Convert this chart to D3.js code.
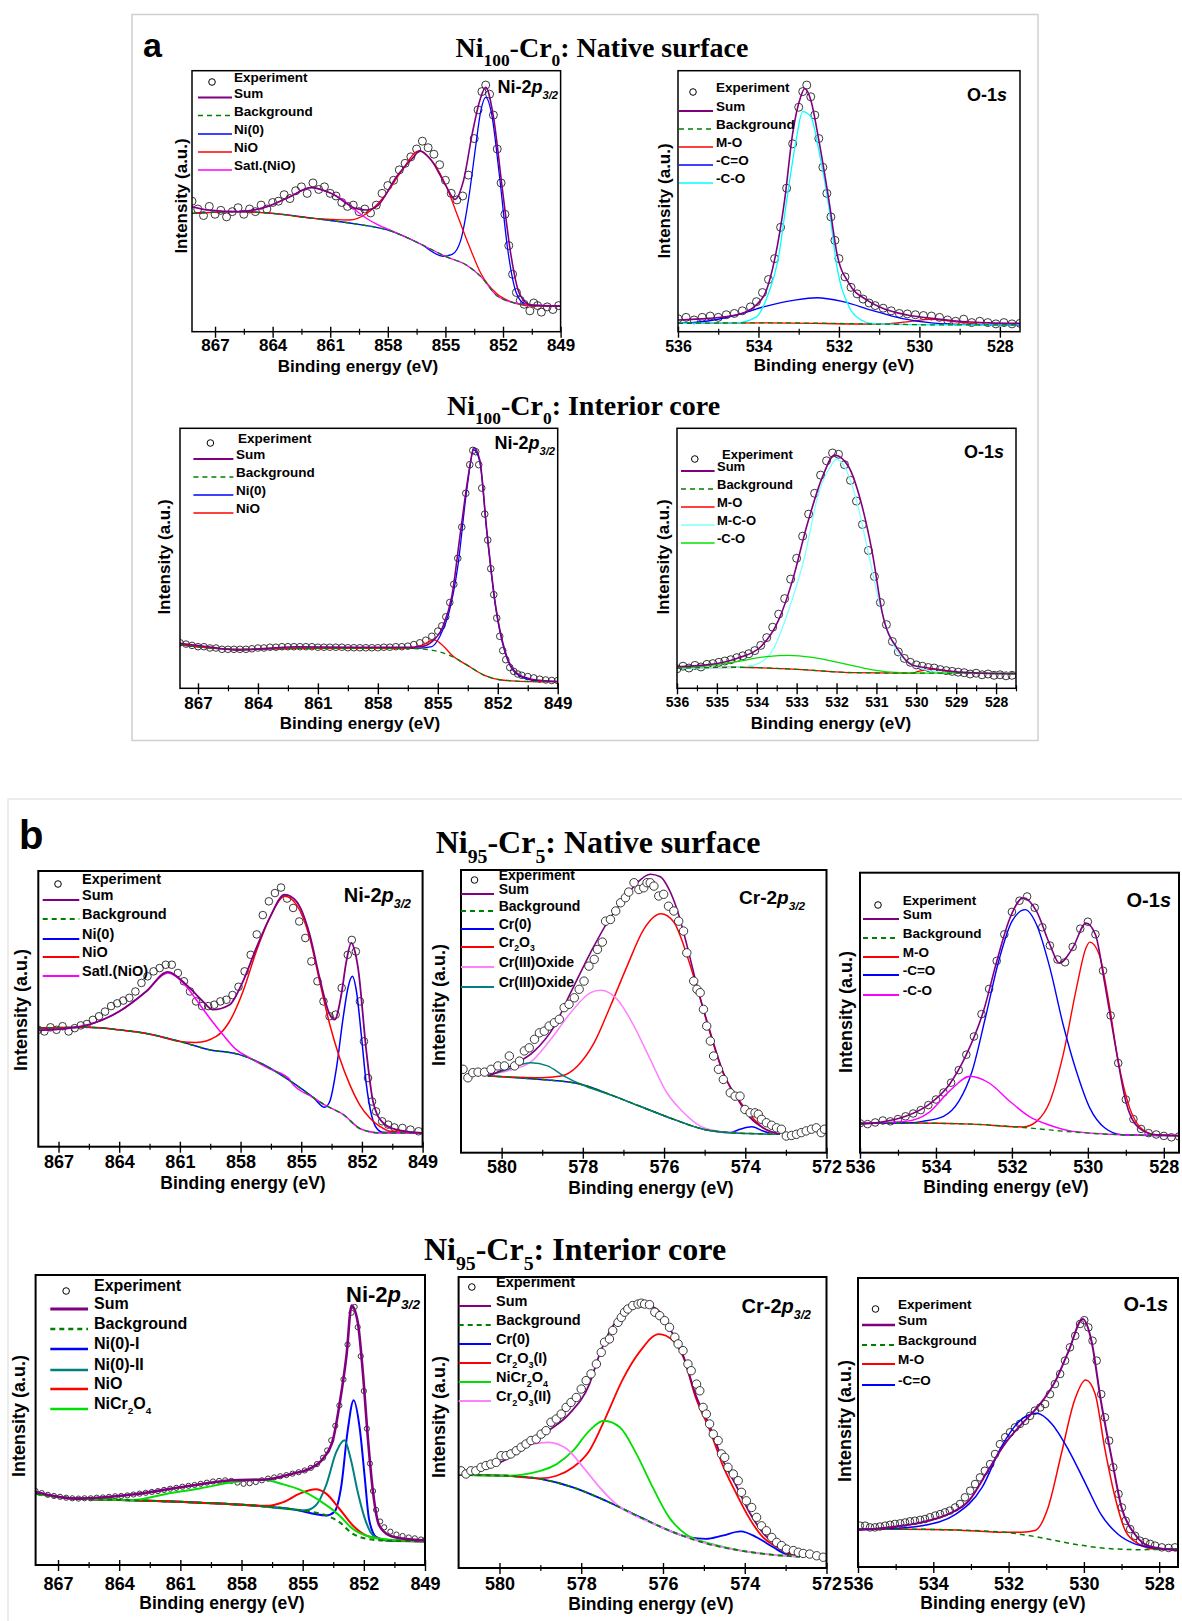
<!DOCTYPE html>
<html>
<head>
<meta charset="utf-8">
<script src="https://cdn.jsdelivr.net/npm/d3@7"></script>
<style>
  body { margin: 0; background: #fff; }
</style>
</head>
<body>
<svg id="fig" width="1182" height="1621"></svg>
<script>
// ---------- data (x = binding energy eV, y = intensity, 0..100 of the panel height) ----------

// a: Ni100-Cr0 native surface, Ni-2p3/2
var a1Exp = [[868.2,50],[867.9,47],[867.6,44.5],[867.3,48],[867.0,45],[866.7,46.5],[866.4,44],[866.1,46],[865.8,47.5],[865.5,45],[865.2,47],[864.9,46],[864.6,48.5],[864.3,47],[864.0,49.5],[863.7,50],[863.4,52.5],[863.1,51],[862.8,54],[862.5,55.5],[862.2,53],[861.9,57],[861.6,54.5],[861.3,55.5],[861.0,53],[860.7,52],[860.4,49.5],[860.1,48],[859.8,48.5],[859.5,46],[859.2,47],[858.9,45.5],[858.6,48.5],[858.3,53],[858.0,56],[857.7,58],[857.4,62],[857.1,64.5],[856.8,67],[856.5,70],[856.2,73],[855.9,70.5],[855.6,68],[855.3,64],[855.0,58],[854.7,53],[854.4,50.5],[854.1,52],[853.8,60],[853.5,74],[853.3,85],[853.1,92],[852.9,94.5],[852.7,91],[852.5,83],[852.3,70],[852.1,57],[851.9,45],[851.7,33],[851.5,22],[851.3,15],[851.1,12],[850.9,10.5],[850.6,8],[850.4,11],[850.2,10],[850.0,7.5],[849.7,9.5],[849.4,8.5],[849.1,10]];
var a1Bg = [[868.2,45.3],[865.8,46.0],[864.0,45.3],[861.85,43.4],[859.7,41.3],[857.9,38.7],[856.35,33.8],[854.95,28.7],[853.9,25.5],[853.15,21.1],[852.35,14.0],[851.6,11.4],[850.55,10.2],[849.0,9.8]];
var a1Sum = [[868.2,47.9],[867.35,46.6],[865.8,46.0],[864.3,47.9],[863.1,51.7],[862.0,55.2],[860.95,53.0],[859.7,47.3],[859.1,46.6],[858.5,48.5],[857.55,59.4],[856.65,67.0],[856.35,69.3],[855.75,65.8],[854.95,55.6],[854.5,50.7],[854.05,58.1],[853.6,76.0],[853.2,88.8],[852.9,93.6],[852.5,82.4],[852.05,55.6],[851.6,30.0],[851.15,14.7],[850.55,10.2],[849.0,9.8]];
var a1Ni0 = [[855.1,28.9],[854.65,29.6],[854.2,35.1],[853.75,53.0],[853.45,69.6],[853.15,84.9],[852.9,89.8],[852.6,83.7],[852.2,60.7],[851.75,31.3],[851.3,14.7],[850.85,10.6],[849.9,9.9]];
var a1NiO = [[860.95,43.0],[860.0,42.8],[859.1,45.3],[858.2,51.7],[857.25,61.9],[856.5,69.0],[856.35,69.3],[855.6,64.5],[854.95,55.6],[854.35,44.1],[853.75,32.6],[853.15,22.3],[852.35,14.7],[851.6,11.5],[850.55,9.9],[849.0,9.8]];
var a1Sat = [[868.2,47.9],[867.35,46.6],[865.8,46.0],[864.3,47.9],[863.1,51.7],[862.0,55.2],[860.95,53.0],[860.3,50.4],[859.7,46.6],[859.1,43.4],[858.5,40.9],[857.9,39.0]];
var a1Labels = ["Experiment", "Sum", "Background", "Ni(0)", "NiO", "Satl.(NiO)"];

// a: Ni100-Cr0 native surface, O-1s
var a2Exp = [[536.0,5.0],[535.8,5.5],[535.6,4.5],[535.4,5.5],[535.2,6.0],[535.0,5.5],[534.8,6.5],[534.6,7.0],[534.4,8.0],[534.2,9.5],[534.05,11.5],[533.9,15.0],[533.75,20.0],[533.6,28.0],[533.45,40.0],[533.3,55.0],[533.15,72.0],[533.0,86.0],[532.9,92.0],[532.8,94.5],[532.7,90.0],[532.6,83.0],[532.5,74.0],[532.4,63.0],[532.3,53.0],[532.2,44.0],[532.1,35.0],[532.0,28.0],[531.85,21.0],[531.7,17.0],[531.55,14.5],[531.4,12.5],[531.25,11.0],[531.1,10.0],[530.9,9.0],[530.7,8.0],[530.5,7.0],[530.3,6.8],[530.1,6.5],[529.9,6.2],[529.7,6.0],[529.5,5.5],[529.3,4.5],[529.1,4.0],[528.9,4.8],[528.7,3.5],[528.5,4.0],[528.3,3.5],[528.1,3.0],[527.9,3.5],[527.7,3.0],[527.5,3.2]];
var a2Bg = [[536.0,3.2],[533.8,3.4],[530.9,2.9],[529.4,2.6],[527.5,2.6]];
var a2Sum = [[536.0,4.5],[535.25,5.1],[534.55,6.4],[534.1,9.6],[533.8,16.0],[533.6,27.5],[533.35,50.4],[533.15,76.0],[532.95,90.0],[532.85,93.2],[532.7,88.8],[532.5,73.4],[532.25,50.4],[532.05,30.0],[531.75,18.5],[531.3,12.1],[530.9,8.9],[530.3,6.4],[529.7,5.1],[529.15,4.2],[528.25,3.4],[527.5,3.2]];
var a2MO = [[530.3,3.8],[529.7,4.7],[529.1,3.8],[528.55,2.9]];
var a2CdO = [[535.3,4.0],[534.55,6.4],[533.8,9.8],[533.1,12.1],[532.55,13.0],[531.9,11.5],[531.2,8.3],[530.45,5.1],[529.7,3.4],[528.7,2.7]];
var a2CO = [[534.55,3.4],[534.05,5.7],[533.75,14.7],[533.52,27.0],[533.3,50.0],[533.08,72.0],[532.9,84.3],[532.7,82.4],[532.5,69.6],[532.25,47.9],[532.05,24.9],[531.75,9.6],[531.45,4.5],[531.2,3.2]];
var a2Labels = ["Experiment", "Sum", "Background", "M-O", "-C=O", "-C-O"];

// a: Ni100-Cr0 interior core, Ni-2p3/2
var a3Exp = [[867.9,17.5],[867.6,17.0],[867.3,16.5],[867.0,16.0],[866.7,16.0],[866.4,15.5],[866.1,15.5],[865.8,15.0],[865.5,15.0],[865.2,15.0],[864.9,15.0],[864.6,15.0],[864.3,15.2],[864.0,15.5],[863.7,15.5],[863.4,15.8],[863.1,15.8],[862.8,16.0],[862.5,16.0],[862.2,16.0],[861.9,16.0],[861.6,16.0],[861.3,16.0],[861.0,15.8],[860.7,15.8],[860.4,15.8],[860.1,15.8],[859.8,15.8],[859.5,15.6],[859.2,15.6],[858.9,15.6],[858.6,15.6],[858.3,15.6],[858.0,15.6],[857.7,15.8],[857.4,15.8],[857.1,16.0],[856.8,16.0],[856.5,16.2],[856.2,16.8],[855.9,17.5],[855.6,18.5],[855.3,20.0],[855.0,22.0],[854.8,24.0],[854.6,27.5],[854.4,33.0],[854.2,40.0],[854.0,50.0],[853.8,62.0],[853.6,75.0],[853.4,86.0],[853.25,91.5],[853.1,91.0],[852.95,86.0],[852.8,77.0],[852.65,67.0],[852.5,57.0],[852.35,46.0],[852.2,36.0],[852.05,27.0],[851.9,20.0],[851.75,14.5],[851.6,11.0],[851.4,8.0],[851.2,6.5],[851.0,5.5],[850.8,5.0],[850.5,4.5],[850.2,4.0],[849.9,3.5],[849.6,3.2],[849.3,3.0],[849.0,3.0]];
var a3Bg = [[867.9,16.7],[865.05,15.0],[862.1,15.4],[856.8,15.4],[855.6,15.0],[854.45,12.8],[853.55,9.0],[852.7,5.1],[851.8,3.2],[850.3,2.6],[849.0,2.6]];
var a3Sum = [[867.9,17.3],[866.5,16.0],[865.05,14.7],[862.1,16.0],[859.15,15.8],[856.8,15.8],[855.9,16.0],[855.3,17.9],[854.75,23.7],[854.3,35.3],[853.85,60.9],[853.4,85.3],[853.2,92.6],[852.9,87.8],[852.55,60.9],[852.1,31.4],[851.65,14.7],[851.05,5.8],[850.3,3.5],[849.0,2.6]];
var a3Ni0 = [[856.05,15.4],[855.3,16.0],[854.9,19.9],[854.45,28.8],[854.0,46.8],[853.55,76.3],[853.2,91.7],[852.9,87.2],[852.55,60.3],[852.1,30.8],[851.65,14.1],[851.05,5.5],[850.3,3.2]];
var a3NiO = [[856.5,15.4],[855.75,16.7],[855.2,18.6],[854.75,16.5],[854.3,12.8]];
var a3Labels = ["Experiment", "Sum", "Background", "Ni(0)", "NiO"];

// a: Ni100-Cr0 interior core, O-1s
var a4Exp = [[536.0,7.5],[535.85,8.5],[535.7,7.8],[535.55,8.8],[535.4,8.2],[535.25,9.2],[535.1,9.5],[534.95,10.0],[534.8,10.5],[534.65,11.0],[534.5,11.8],[534.35,12.5],[534.2,13.3],[534.05,14.5],[533.9,16.5],[533.75,19.5],[533.6,23.5],[533.45,28.5],[533.3,34.5],[533.15,42.0],[533.0,50.0],[532.85,58.5],[532.7,67.0],[532.55,75.0],[532.4,82.0],[532.25,87.5],[532.1,90.5],[531.95,90.0],[531.8,86.0],[531.65,80.0],[531.5,72.0],[531.35,63.0],[531.2,53.0],[531.05,43.0],[530.9,33.0],[530.75,24.5],[530.6,18.0],[530.45,14.0],[530.3,11.5],[530.15,10.0],[530.0,9.0],[529.85,8.5],[529.7,8.0],[529.55,7.8],[529.4,7.2],[529.25,6.8],[529.1,6.5],[528.95,6.2],[528.8,6.0],[528.65,5.5],[528.5,5.8],[528.35,5.2],[528.2,5.5],[528.05,5.0],[527.9,5.2],[527.75,4.8],[527.6,5.0]];
var a4Bg = [[536.0,7.7],[534.5,8.1],[533.0,7.3],[531.55,6.0],[530.1,5.8],[527.5,5.8]];
var a4Sum = [[536.0,8.3],[535.25,9.0],[534.5,11.5],[533.9,16.0],[533.45,26.3],[533.1,41.7],[532.75,62.2],[532.35,81.4],[532.05,89.7],[531.7,85.3],[531.4,72.4],[531.1,51.9],[530.85,28.8],[530.45,14.7],[530.1,9.0],[529.65,7.7],[529.05,6.4],[528.35,5.8],[527.5,5.5]];
var a4MO = [[530.1,5.8],[529.95,6.5],[529.6,7.3],[529.2,6.4],[528.8,5.8]];
var a4MCO = [[534.5,8.1],[534.05,9.0],[533.6,14.7],[533.2,30.1],[532.8,50.6],[532.45,75.0],[532.15,85.3],[532.0,88.1],[531.8,85.3],[531.5,72.4],[531.2,51.9],[530.9,31.4],[530.55,16.0],[530.15,9.6],[529.8,7.3],[529.35,6.2],[528.9,5.8]];
var a4CO = [[536.0,7.7],[535.25,8.6],[534.5,10.3],[533.75,12.2],[533.2,12.7],[532.6,11.9],[531.85,9.6],[531.1,7.1],[530.4,6.0],[529.7,5.8]];
var a4Labels = ["Experiment", "Sum", "Background", "M-O", "M-C-O", "-C-O"];

// b: Ni95-Cr5 native surface, Ni-2p3/2
var b1Exp = [[868.0,42.4],[867.7,41.8],[867.4,43.3],[867.1,42.4],[866.8,43.7],[866.5,41.8],[866.2,43.0],[865.9,44.0],[865.6,44.5],[865.3,46.0],[865.0,47.3],[864.7,49.0],[864.4,51.0],[864.1,52.0],[863.8,53.0],[863.5,54.0],[863.2,56.3],[862.9,59.4],[862.6,61.8],[862.3,63.6],[862.0,64.8],[861.7,66.0],[861.4,66.0],[861.1,63.0],[860.8,60.0],[860.5,56.3],[860.2,52.7],[859.9,51.0],[859.6,51.0],[859.3,51.5],[859.0,52.7],[858.7,53.3],[858.4,55.0],[858.1,58.0],[857.8,63.6],[857.5,69.6],[857.2,77.0],[856.9,84.0],[856.6,89.0],[856.3,92.0],[856.0,94.0],[855.7,90.0],[855.4,86.6],[855.1,81.7],[854.8,75.7],[854.5,67.2],[854.2,60.0],[853.9,52.7],[853.6,47.3],[853.3,47.9],[853.0,57.6],[852.7,69.6],[852.5,75.0],[852.3,70.8],[852.1,52.7],[851.9,38.2],[851.7,24.9],[851.5,16.4],[851.3,12.8],[851.0,9.2],[850.7,8.0],[850.4,7.0],[850.0,6.8],[849.6,6.2],[849.2,5.6]];
var b1Bg = [[868.0,43.0],[865.6,43.3],[864.0,42.4],[862.35,40.6],[861.0,38.2],[859.55,35.2],[858.05,33.4],[856.9,29.9],[855.55,23.9],[854.4,17.8],[853.75,14.8],[852.95,11.8],[852.05,6.4],[851.1,5.0],[849.0,5.0]];
var b1Sum = [[868.0,42.2],[866.47,43.0],[865.48,44.3],[863.99,49.1],[862.67,56.3],[861.6,63.4],[860.69,58.8],[859.86,52.7],[859.37,49.7],[858.54,51.5],[857.88,60.0],[857.22,72.1],[856.56,83.0],[855.82,91.4],[855.24,89.0],[854.58,76.9],[854.09,61.2],[853.59,47.9],[853.35,46.1],[853.02,55.1],[852.77,67.2],[852.52,73.9],[852.35,70.9],[852.19,64.8],[851.78,34.6],[851.45,16.4],[850.95,8.6],[850.29,6.2],[849.0,5.0]];
var b1Ni0 = [[853.84,14.3],[853.59,16.4],[853.26,28.5],[852.93,46.7],[852.69,57.6],[852.47,61.8],[852.27,56.3],[852.03,40.6],[851.78,22.5],[851.53,11.6],[851.28,6.8],[850.95,5.2]];
var b1NiO = [[861.0,38.2],[860.19,37.8],[859.2,40.0],[858.54,45.5],[857.88,56.3],[857.22,70.9],[856.56,83.0],[855.82,90.8],[855.24,87.8],[854.58,75.7],[854.09,60.0],[853.59,44.3],[853.1,32.2],[852.6,22.5],[852.11,15.2],[851.61,10.4],[851.12,7.4],[850.62,5.6],[849.0,5.0]];
var b1Sat = [[868.0,42.2],[866.47,43.0],[865.48,44.3],[863.99,49.1],[862.67,56.3],[861.6,63.0],[860.69,58.2],[860.19,53.3],[859.53,46.7],[858.87,40.6],[858.21,35.2],[857.55,32.2],[856.56,28.2],[855.57,24.5]];
var b1Labels = ["Experiment", "Sum", "Background", "Ni(0)", "NiO", "Satl.(NiO)"];

// b: Ni95-Cr5 native surface, Cr-2p3/2
var b2Exp = [[580.95,29.5],[580.83,26.5],[580.71,28.3],[580.58,28.5],[580.42,28.5],[580.26,29.5],[580.09,30.7],[579.93,30.7],[579.81,34.2],[579.68,30.7],[579.56,32.4],[579.44,36.0],[579.32,37.1],[579.19,40.1],[579.07,42.4],[578.95,43.0],[578.83,44.8],[578.7,46.0],[578.58,47.2],[578.46,51.3],[578.34,52.5],[578.21,54.8],[578.09,57.8],[577.97,60.7],[577.85,66.0],[577.72,68.4],[577.64,71.9],[577.52,74.5],[577.44,81.9],[577.32,82.5],[577.19,85.5],[577.07,88.4],[576.95,90.2],[576.87,92.2],[576.74,95.5],[576.62,93.1],[576.5,93.7],[576.42,95.5],[576.34,95.5],[576.25,94.3],[576.13,90.8],[576.01,91.4],[575.89,87.2],[575.76,85.5],[575.64,81.9],[575.52,78.4],[575.44,70.7],[575.27,60.7],[575.19,57.8],[575.11,56.6],[575.03,50.7],[574.95,44.8],[574.86,39.5],[574.78,34.2],[574.66,29.5],[574.54,25.9],[574.37,21.2],[574.25,20.0],[574.13,20.0],[574.01,15.3],[573.88,14.1],[573.76,14.1],[573.68,13.6],[573.6,11.8],[573.48,10.6],[573.35,9.7],[573.23,8.8],[573.11,8.3],[572.99,5.9],[572.86,6.1],[572.74,6.5],[572.62,7.1],[572.5,7.7],[572.37,8.3],[572.25,8.8],[572.13,7.1],[572.05,8.3]];
var b2Bg = [[580.34,27.1],[579.03,25.9],[578.05,24.2],[577.23,20.0],[576.5,15.9],[575.76,11.8],[575.03,8.3],[574.37,7.1],[573.72,6.7],[573.15,6.5]];
var b2Sum = [[580.34,27.1],[579.77,30.7],[579.19,36.0],[578.7,44.8],[578.3,56.6],[577.81,70.8],[577.4,81.4],[576.99,89.6],[576.66,95.5],[576.34,98.5],[576.09,97.6],[575.88,93.2],[575.68,86.0],[575.43,73.0],[575.19,59.0],[574.86,42.5],[574.54,28.3],[574.21,19.5],[573.88,12.4],[573.56,8.8],[573.15,6.5]];
var b2Cr0 = [[574.37,7.1],[574.13,8.3],[573.84,9.2],[573.56,7.7],[573.23,6.5]];
var b2Cr2O3 = [[580.34,27.1],[579.03,26.5],[578.54,27.1],[578.13,30.7],[577.72,38.9],[577.32,51.9],[576.91,66.0],[576.5,79.0],[576.08,84.5],[575.76,81.6],[575.52,73.5],[575.35,66.0],[575.19,58.5],[574.86,42.0],[574.54,28.0],[574.05,16.5],[573.56,8.8],[573.15,6.5]];
var b2Ox1 = [[580.34,27.7],[579.85,29.0],[579.28,32.1],[578.79,40.1],[578.3,49.5],[577.81,56.6],[577.56,57.5],[577.15,54.2],[576.74,44.8],[576.34,33.0],[575.93,21.2],[575.52,14.2],[575.11,9.4],[574.7,7.7],[574.21,7.1],[573.72,6.7],[573.15,6.5]];
var b2Ox2 = [[580.34,27.1],[579.85,29.5],[579.28,31.8],[578.87,30.7],[578.46,27.1],[578.05,24.2]];
var b2Labels = ["Experiment", "Sum", "Background", "Cr(0)", "Cr_2O_3", "Cr(III)Oxide", "Cr(III)Oxide"];

// b: Ni95-Cr5 native surface, O-1s
var b3Exp = [[536.0,10.5],[535.8,10.2],[535.6,10.8],[535.4,11.5],[535.2,11.2],[535.0,12.0],[534.8,13.0],[534.6,14.0],[534.4,15.2],[534.2,17.0],[534.0,19.0],[533.8,21.5],[533.6,25.0],[533.4,29.5],[533.2,35.0],[533.0,41.5],[532.8,49.5],[532.6,58.5],[532.4,68.5],[532.2,78.0],[532.0,86.0],[531.8,90.0],[531.6,91.5],[531.4,87.5],[531.2,80.5],[531.0,74.0],[530.8,69.0],[530.6,68.0],[530.4,73.5],[530.2,80.0],[530.0,82.5],[529.8,78.0],[529.6,65.0],[529.4,49.0],[529.2,32.0],[529.0,19.0],[528.8,12.0],[528.6,8.5],[528.4,7.0],[528.2,6.5],[528.0,6.0],[527.8,5.5],[527.6,5.8]];
var b3Bg = [[536.0,10.6],[534.8,10.6],[533.05,10.2],[531.7,9.0],[530.4,7.4],[529.1,6.4],[527.6,6.1]];
var b3Sum = [[536.0,10.2],[535.4,11.0],[534.8,13.0],[534.2,17.1],[533.65,24.3],[533.2,35.0],[532.75,50.5],[532.4,68.3],[532.05,83.8],[531.7,91.0],[531.35,86.2],[531.0,74.3],[530.75,67.7],[530.4,73.1],[530.05,82.0],[529.8,77.9],[529.55,60.0],[529.25,36.2],[529.0,18.3],[528.65,8.8],[528.2,6.4],[527.6,6.1]];
var b3MO = [[531.7,9.2],[531.35,11.2],[531.0,18.3],[530.65,35.0],[530.3,58.8],[530.05,73.1],[529.95,75.2],[529.7,70.7],[529.45,54.0],[529.2,32.6],[528.9,16.0],[528.55,8.2],[528.2,6.4]];
var b3CdO = [[534.35,11.2],[533.8,13.0],[533.4,18.3],[533.05,29.0],[532.7,48.1],[532.35,68.3],[532.0,82.6],[531.65,86.8],[531.35,81.4],[531.0,66.0],[530.65,45.7],[530.3,29.0],[529.95,16.0],[529.55,8.8],[529.1,6.4]];
var b3CO = [[534.8,11.2],[534.2,14.2],[533.65,21.9],[533.1,27.3],[532.6,24.9],[532.05,18.3],[531.55,13.0],[531.0,9.8],[530.4,7.6]];
var b3Labels = ["Experiment", "Sum", "Background", "M-O", "-C=O", "-C-O"];

// b: Ni95-Cr5 interior core, Ni-2p3/2
var b4Exp = [[868.1,25.5],[867.8,24.8],[867.5,24.2],[867.2,23.8],[866.9,23.5],[866.6,23.2],[866.3,23.0],[866.0,22.9],[865.7,23.0],[865.4,23.0],[865.1,23.2],[864.8,23.3],[864.5,23.5],[864.2,23.7],[863.9,23.8],[863.6,24.0],[863.3,24.3],[863.0,24.6],[862.7,24.9],[862.4,25.2],[862.1,25.5],[861.8,25.9],[861.5,26.3],[861.2,26.6],[860.9,27.0],[860.6,27.3],[860.3,27.6],[860.0,28.0],[859.7,28.4],[859.4,28.8],[859.1,29.0],[858.8,29.2],[858.5,29.0],[858.2,28.4],[857.9,28.0],[857.6,28.2],[857.3,28.6],[857.0,29.2],[856.7,29.8],[856.4,30.2],[856.1,30.6],[855.8,31.0],[855.5,31.5],[855.2,32.0],[854.9,32.6],[854.6,33.5],[854.3,34.8],[854.0,37.0],[853.8,39.5],[853.6,43.0],[853.4,48.0],[853.2,55.0],[853.0,64.0],[852.8,76.0],[852.6,87.0],[852.45,89.0],[852.3,82.0],[852.15,72.0],[852.0,60.0],[851.85,47.0],[851.7,35.0],[851.55,25.5],[851.4,19.0],[851.2,15.0],[851.0,13.0],[850.7,11.5],[850.4,10.5],[850.1,10.0],[849.8,9.5],[849.5,9.2],[849.2,8.8],[849.0,8.6]];
var b4Bg = [[868.1,24.6],[866.1,22.9],[863.3,22.3],[860.05,21.5],[857.6,20.6],[855.5,19.2],[853.85,17.1],[853.2,14.8],[852.55,10.8],[851.9,9.1],[850.9,8.4],[849.0,8.2]];
var b4Sum = [[868.1,25.2],[866.1,22.9],[863.35,24.3],[860.9,26.9],[858.45,29.2],[856.8,29.5],[855.5,31.5],[854.65,33.2],[854.0,36.7],[853.5,43.6],[853.2,55.1],[852.85,72.3],[852.6,89.5],[852.3,83.8],[852.05,66.6],[851.8,43.6],[851.55,25.2],[851.25,13.7],[850.75,10.2],[850.1,9.1],[849.0,8.5]];
var b4Ni0I = [[853.85,17.1],[853.45,18.3],[853.1,27.5],[852.8,45.9],[852.5,56.8],[852.2,47.0],[851.95,29.8],[851.75,16.0],[851.4,9.7],[850.9,8.5]];
var b4Ni0II = [[854.85,18.9],[854.35,20.6],[853.85,27.5],[853.35,39.0],[852.95,43.0],[852.65,36.7],[852.3,25.2],[851.95,16.0],[851.55,10.2],[851.05,8.7]];
var b4NiO = [[856.8,20.4],[855.95,21.7],[855.15,24.6],[854.35,26.1],[853.85,24.6],[853.2,19.4],[852.55,13.7],[851.9,10.2],[851.25,9.1],[850.25,8.4]];
var b4NiCr = [[863.35,22.4],[861.7,24.5],[860.05,26.4],[858.45,28.5],[857.3,29.5],[856.8,29.3],[855.95,27.8],[855.15,26.0],[854.2,22.4],[853.2,17.1],[852.55,12.5],[851.75,9.8],[850.6,8.6]];
var b4Labels = ["Experiment", "Sum", "Background", "Ni(0)-I", "Ni(0)-II", "NiO", "NiCr_2O_4"];

// b: Ni95-Cr5 interior core, Cr-2p3/2
var b5Exp = [[580.94,33.4],[580.82,32.3],[580.7,33.4],[580.58,33.4],[580.45,34.6],[580.33,35.2],[580.21,35.7],[580.08,36.3],[579.96,38.6],[579.84,38.6],[579.72,39.2],[579.59,40.3],[579.47,41.5],[579.35,42.6],[579.23,43.8],[579.1,44.3],[578.98,46.0],[578.86,47.2],[578.74,50.1],[578.61,51.2],[578.49,52.9],[578.37,55.2],[578.25,56.9],[578.12,58.6],[578.0,61.5],[577.88,64.4],[577.76,66.7],[577.63,70.1],[577.51,74.1],[577.43,77.6],[577.31,78.7],[577.23,81.6],[577.1,84.4],[577.02,86.1],[576.94,87.9],[576.86,89.0],[576.74,90.2],[576.61,90.7],[576.53,91.0],[576.45,90.7],[576.33,90.5],[576.2,87.9],[576.08,86.7],[575.96,85.0],[575.84,82.7],[575.71,79.3],[575.63,77.0],[575.51,74.7],[575.39,70.1],[575.31,67.8],[575.18,63.2],[575.1,60.9],[575.02,55.2],[574.94,52.9],[574.86,49.5],[574.77,46.0],[574.65,43.8],[574.57,39.2],[574.49,38.0],[574.41,34.6],[574.28,32.3],[574.16,30.0],[574.08,26.0],[573.96,23.1],[573.83,20.8],[573.71,17.4],[573.59,14.5],[573.47,12.8],[573.34,10.5],[573.22,8.8],[573.1,7.7],[572.98,6.5],[572.81,6.0],[572.69,5.4],[572.57,5.0],[572.41,4.8],[572.24,4.2],[572.08,3.7]];
var b5Bg = [[581.0,32.0],[579.85,31.7],[579.0,30.6],[578.2,27.7],[577.4,23.1],[576.55,17.4],[575.75,12.3],[574.95,8.5],[574.1,6.0],[573.3,4.5],[572.65,3.9]];
var b5Sum = [[581.0,32.3],[580.25,34.6],[579.75,38.0],[579.25,42.6],[578.8,47.2],[578.3,52.9],[577.8,63.2],[577.55,73.5],[577.25,82.7],[576.9,87.9],[576.55,90.7],[576.15,89.0],[575.85,82.7],[575.5,72.8],[575.2,59.5],[574.85,48.5],[574.55,37.5],[574.2,28.0],[573.9,19.5],[573.55,12.0],[573.2,7.8],[572.9,5.2],[572.65,4.2]];
var b5Cr0 = [[575.35,10.5],[574.95,10.0],[574.55,11.1],[574.1,12.6],[573.7,10.5],[573.3,7.1],[573.0,4.8],[572.65,3.9]];
var b5Cr2O3a = [[579.0,30.8],[578.6,31.7],[578.2,34.6],[577.8,40.3],[577.4,51.8],[577.0,64.4],[576.55,74.7],[576.1,80.4],[575.75,78.1],[575.5,72.4],[575.2,58.6],[574.85,47.2],[574.55,35.7],[574.2,25.4],[573.9,17.4],[573.55,10.5],[573.2,7.1],[572.9,4.8]];
var b5NiCr = [[579.85,31.7],[579.0,33.4],[578.6,35.7],[578.2,40.3],[577.8,47.2],[577.45,50.6],[577.05,48.3],[576.65,39.2],[576.25,27.7],[575.85,17.4],[575.45,11.7],[575.1,9.4],[574.8,8.2]];
var b5Cr2O3b = [[581.0,32.3],[580.25,35.7],[579.6,40.3],[579.2,42.6],[578.8,43.2],[578.35,40.9],[577.95,34.6],[577.55,27.7],[577.15,22.0],[576.65,17.8],[576.3,15.6]];
var b5Labels = ["Experiment", "Sum", "Background", "Cr(0)", "Cr_2O_3(I)", "NiCr_2O_4", "Cr_2O_3(II)"];

// b: Ni95-Cr5 interior core, O-1s
var b6Exp = [[535.95,14.3],[535.81,14.3],[535.68,13.7],[535.55,13.7],[535.42,14.0],[535.28,14.3],[535.15,14.6],[535.02,14.9],[534.88,15.1],[534.75,15.4],[534.62,15.8],[534.49,16.0],[534.35,16.3],[534.22,16.6],[534.09,17.2],[533.95,17.8],[533.82,18.3],[533.69,18.9],[533.56,19.5],[533.42,20.6],[533.29,21.8],[533.16,24.1],[533.02,26.4],[532.89,28.7],[532.76,31.0],[532.63,33.3],[532.49,35.6],[532.36,39.1],[532.23,42.5],[532.09,44.9],[531.96,46.6],[531.83,48.3],[531.7,49.5],[531.56,50.6],[531.43,52.3],[531.3,54.1],[531.16,55.2],[531.03,56.4],[530.9,59.8],[530.77,63.3],[530.63,66.8],[530.5,71.4],[530.37,76.0],[530.23,80.0],[530.1,84.1],[529.99,85.4],[529.88,82.9],[529.77,78.3],[529.66,71.4],[529.54,59.8],[529.44,51.8],[529.33,43.7],[529.22,34.5],[529.08,25.3],[528.99,20.6],[528.89,16.0],[528.77,13.1],[528.64,10.8],[528.51,9.1],[528.37,8.6],[528.24,8.0],[528.11,7.4],[527.93,6.8],[527.75,6.6],[527.58,6.8]];
var b6Bg = [[536.0,13.1],[534.75,13.1],[533.4,12.8],[532.1,12.0],[531.2,10.3],[530.3,8.0],[529.45,6.5],[528.55,6.0],[527.5,6.2]];
var b6Sum = [[536.0,12.8],[535.2,13.7],[534.3,15.5],[533.6,18.3],[533.05,23.0],[532.55,33.3],[532.1,42.6],[531.65,49.5],[531.2,55.8],[530.75,64.5],[530.4,74.9],[530.03,85.8],[529.8,78.3],[529.55,57.6],[529.25,36.8],[529.0,20.6],[528.65,11.4],[528.3,7.4],[527.5,5.7]];
var b6MO = [[531.65,12.0],[531.3,12.6],[530.95,20.6],[530.6,39.1],[530.25,57.6],[529.95,64.7],[529.7,59.9],[529.45,41.4],[529.15,23.0],[528.9,12.6],[528.55,8.0],[528.1,6.2]];
var b6CdO = [[535.2,13.3],[534.3,14.3],[533.4,18.3],[532.7,27.6],[532.2,41.4],[531.65,51.2],[531.25,53.2],[530.85,49.5],[530.4,40.3],[529.95,28.7],[529.55,18.3],[529.1,11.4],[528.65,8.0],[528.1,6.6],[527.5,6.0]];
var b6Labels = ["Experiment", "Sum", "Background", "M-O", "-C=O"];

// tick values
var niMajor = [867, 864, 861, 858, 855, 852, 849];
var niMinor = [865.5, 862.5, 859.5, 856.5, 853.5, 850.5];
var oMajor = [536, 534, 532, 530, 528];
var oMinor = [535, 533, 531, 529];
var oMajorFine = [536, 535, 534, 533, 532, 531, 530, 529, 528];
var oMinorFine = [535.5, 534.5, 533.5, 532.5, 531.5, 530.5, 529.5, 528.5, 527.5];
var crMajor = [580, 578, 576, 574, 572];
var crMinor = [579, 577, 575, 573];

// ---------- drawing ----------
var SANS = "'Liberation Sans', Arial, Helvetica, sans-serif";
var SERIF = "'Liberation Serif', 'Times New Roman', serif";
var PURPLE = "#800080", GREEN = "#008000", BLUE = "#0000ff", RED = "#ff0000",
    MAGENTA = "#ff00ff", CYAN = "#00ffff", LCYAN = "#80ffff", TEAL = "#008080",
    PINK = "#ff80ff", LIME = "#00e000";

var NI2P = [["Ni-2", ""], ["p", "it"], ["3/2", "itsub"]];
var CR2P = [["Cr-2", ""], ["p", "it"], ["3/2", "itsub"]];
var O1S = [["O-1", ""], ["s", "it"]];

var svg = d3.select("#fig");

// component curves sit on the background outside their own range
function withBase(pts, bg) {
  var hi = d3.max(pts, function(d) { return d[0]; });
  var lo = d3.min(pts, function(d) { return d[0]; });
  return bg.filter(function(d) { return d[0] > hi || d[0] < lo; })
    .concat(pts).sort(function(p, q) { return q[0] - p[0]; });
}

function rich(text, parts, size) {
  var off = 0;
  parts.forEach(function(p) {
    var sub = p[1].indexOf("sub") >= 0;
    var target = sub ? size * 0.32 : 0;
    text.append("tspan").text(p[0])
      .attr("dy", target - off)
      .attr("font-size", sub ? size * 0.62 : size)
      .attr("font-style", p[1].indexOf("it") >= 0 ? "italic" : null);
    off = target;
  });
}

function subParts(label) {
  return label.split(/_(\d)/).map(function(s, i) { return [s, i % 2 ? "sub" : ""]; })
    .filter(function(p) { return p[0] !== ""; });
}

function drawPanel(p) {
  var x0 = p.box[0], y0 = p.box[1], x1 = p.box[2], y1 = p.box[3];
  var x = d3.scaleLinear().domain(p.dom).range([x0, x1]);
  var y = d3.scaleLinear().domain([0, 100]).range([y1, y0]);
  var g = svg.append("g");

  g.append("clipPath").attr("id", "clip-" + p.id)
    .append("rect").attr("x", x0).attr("y", y0).attr("width", x1 - x0).attr("height", y1 - y0);
  var plot = g.append("g").attr("clip-path", "url(#clip-" + p.id + ")");

  var line = d3.line().x(function(d) { return x(d[0]); }).y(function(d) { return y(d[1]); })
    .curve(d3.curveMonotoneX);

  function drawExp() {
    plot.append("g").selectAll("circle").data(p.exp).join("circle")
      .attr("cx", function(d) { return x(d[0]); })
      .attr("cy", function(d) { return y(d[1]); })
      .attr("r", p.r)
      .attr("fill", p.fill)
      .attr("stroke", "#222")
      .attr("stroke-width", 0.9);
  }

  if (!p.expOnTop) drawExp();
  p.comps.forEach(function(c) {
    plot.append("path").attr("d", line(withBase(c.d, p.bg)))
      .attr("fill", "none").attr("stroke", c.c).attr("stroke-width", p.lw);
  });
  plot.append("path").attr("d", line(p.bg))
    .attr("fill", "none").attr("stroke", GREEN).attr("stroke-width", p.lw)
    .attr("stroke-dasharray", "5,4");
  plot.append("path").attr("d", line(p.sum))
    .attr("fill", "none").attr("stroke", PURPLE).attr("stroke-width", p.sumW);
  if (p.expOnTop) drawExp();

  // frame
  g.append("rect").attr("x", x0).attr("y", y0).attr("width", x1 - x0).attr("height", y1 - y0)
    .attr("fill", "none").attr("stroke", "#000").attr("stroke-width", p.frameW);

  // axis
  var ax = g.append("g").attr("transform", "translate(0," + y1 + ")")
    .call(d3.axisBottom(x).tickValues(p.major).tickFormat(d3.format("d")).tickSize(6));
  ax.select(".domain").remove();
  ax.attr("font-family", SANS).attr("font-size", p.tickFs).attr("font-weight", "bold");
  ax.selectAll(".tick line").attr("y1", -5).attr("stroke-width", 1.4);
  ax.selectAll(".tick text").attr("y", p.tickY - y1).attr("dy", 0).attr("fill", "#000");
  var axm = g.append("g").attr("transform", "translate(0," + y1 + ")")
    .call(d3.axisBottom(x).tickValues(p.minor).tickFormat("").tickSize(3));
  axm.select(".domain").remove();
  axm.selectAll(".tick line").attr("y1", -3).attr("stroke-width", 1.2);

  g.append("text").attr("x", p.xt[0]).attr("y", p.xt[1])
    .attr("text-anchor", "middle").attr("font-family", SANS).attr("font-weight", "bold")
    .attr("font-size", p.xt[2]).text("Binding energy (eV)");
  g.append("text").attr("transform", "translate(" + p.yt[0] + "," + p.yt[1] + ") rotate(-90)")
    .attr("text-anchor", "middle").attr("dominant-baseline", "central")
    .attr("font-family", SANS).attr("font-weight", "bold")
    .attr("font-size", p.yt[2]).text("Intensity (a.u.)");

  // peak label
  var pk = g.append("text").attr("x", p.peak.x).attr("y", p.peak.y)
    .attr("text-anchor", "end").attr("font-family", SANS).attr("font-weight", "bold");
  rich(pk, p.peak.parts, p.peak.fs);

  // legend
  var L = p.legend;
  var items = [{t: "exp"}, {t: "line", c: PURPLE, w: p.sumW}, {t: "dash", c: GREEN, w: p.lw}]
    .concat(p.comps.map(function(c) { return {t: "line", c: c.c, w: p.lw}; }));
  items.forEach(function(it, i) {
    var ry = L.rows[i];
    if (it.t === "exp") {
      g.append("circle").attr("cx", (L.lx[0] + L.lx[1]) / 2 - 3).attr("cy", ry).attr("r", 3.3)
        .attr("fill", "none").attr("stroke", "#000").attr("stroke-width", 1);
    } else {
      g.append("line").attr("x1", L.lx[0]).attr("x2", L.lx[1]).attr("y1", ry).attr("y2", ry)
        .attr("stroke", it.c).attr("stroke-width", it.w + 0.4)
        .attr("stroke-dasharray", it.t === "dash" ? "5,4" : null);
    }
    var tx = g.append("text").attr("x", i === 0 ? L.tx + L.expShift : L.tx).attr("y", ry)
      .attr("dy", "0.36em").attr("font-family", SANS).attr("font-weight", "bold");
    rich(tx, subParts(p.labels[i]), L.fs);
  });
}

var panels = [
  { id: "a1", box: [192, 70.7, 560.6, 331.7], dom: [868.2, 849], major: niMajor, minor: niMinor,
    tickFs: 17, tickY: 351.5, exp: a1Exp, r: 4, fill: "none", expOnTop: false,
    bg: a1Bg, sum: a1Sum, lw: 1.3, sumW: 1.6, frameW: 1.5,
    comps: [{d: a1Ni0, c: BLUE}, {d: a1NiO, c: RED}, {d: a1Sat, c: MAGENTA}], labels: a1Labels,
    legend: {rows: [82, 97.5, 115.5, 134, 152, 170], lx: [198, 232], tx: 234, expShift: 0, fs: 13.5},
    peak: {parts: NI2P, x: 558, y: 93, fs: 18}, xt: [358, 371.5, 17], yt: [181.7, 196, 17] },
  { id: "a2", box: [678, 70.7, 1020, 331.7], dom: [536, 527.5], major: oMajor, minor: oMinor,
    tickFs: 16, tickY: 352.5, exp: a2Exp, r: 4, fill: "none", expOnTop: false,
    bg: a2Bg, sum: a2Sum, lw: 1.3, sumW: 1.6, frameW: 1.5,
    comps: [{d: a2MO, c: RED}, {d: a2CdO, c: BLUE}, {d: a2CO, c: CYAN}], labels: a2Labels,
    legend: {rows: [92, 111, 129, 147, 165, 183], lx: [679, 713], tx: 716, expShift: 0, fs: 13.5},
    peak: {parts: O1S, x: 1007, y: 101, fs: 18}, xt: [834, 370.5, 17], yt: [664.6, 201, 17] },
  { id: "a3", box: [180, 428.3, 557.7, 688.3], dom: [867.9, 849], major: niMajor, minor: niMinor,
    tickFs: 17, tickY: 709.5, exp: a3Exp, r: 3.3, fill: "none", expOnTop: false,
    bg: a3Bg, sum: a3Sum, lw: 1.3, sumW: 1.6, frameW: 1.5,
    comps: [{d: a3Ni0, c: BLUE}, {d: a3NiO, c: RED}], labels: a3Labels,
    legend: {rows: [443, 459, 477, 495, 513], lx: [193.4, 233.4], tx: 236, expShift: 2, fs: 13.5},
    peak: {parts: NI2P, x: 555, y: 449, fs: 18}, xt: [360, 728.5, 17], yt: [164, 557, 17] },
  { id: "a4", box: [677, 428.3, 1016, 688.3], dom: [536, 527.5], major: oMajorFine, minor: oMinorFine,
    tickFs: 14, tickY: 707.5, exp: a4Exp, r: 4, fill: "none", expOnTop: false,
    bg: a4Bg, sum: a4Sum, lw: 1.3, sumW: 1.6, frameW: 1.5,
    comps: [{d: a4MO, c: RED}, {d: a4MCO, c: LCYAN}, {d: a4CO, c: LIME}], labels: a4Labels,
    legend: {rows: [459, 471, 489, 507, 525, 543], lx: [681, 714.6], tx: 717, expShift: 5, fs: 13},
    peak: {parts: O1S, x: 1004, y: 458, fs: 18}, xt: [831, 728.5, 17], yt: [663.5, 557, 17] },
  { id: "b1", box: [38.3, 871, 422.6, 1146.7], dom: [868, 849], major: niMajor, minor: niMinor,
    tickFs: 18, tickY: 1168, exp: b1Exp, r: 3.8, fill: "none", expOnTop: false,
    bg: b1Bg, sum: b1Sum, lw: 1.5, sumW: 1.8, frameW: 2,
    comps: [{d: b1Ni0, c: BLUE}, {d: b1NiO, c: RED}, {d: b1Sat, c: MAGENTA}], labels: b1Labels,
    legend: {rows: [884, 900, 919, 939, 957, 976], lx: [42.7, 79.3], tx: 82, expShift: 0, fs: 14.5},
    peak: {parts: NI2P, x: 411, y: 902, fs: 20}, xt: [243, 1188.5, 17.5], yt: [21, 1010, 18] },
  { id: "b2", box: [461, 870, 826.5, 1152.7], dom: [581, 572], major: crMajor, minor: crMinor,
    tickFs: 18, tickY: 1173.5, exp: b2Exp, r: 4.2, fill: "#fff", expOnTop: true,
    bg: b2Bg, sum: b2Sum, lw: 1.5, sumW: 1.6, frameW: 2,
    comps: [{d: b2Cr0, c: BLUE}, {d: b2Cr2O3, c: RED}, {d: b2Ox1, c: PINK}, {d: b2Ox2, c: TEAL}], labels: b2Labels,
    legend: {rows: [880, 894, 911, 929, 947, 967, 987], lx: [461, 494], tx: 498.7, expShift: 0, fs: 14},
    peak: {parts: CR2P, x: 805, y: 904, fs: 19}, xt: [651, 1194, 17.5], yt: [438.7, 1005, 18] },
  { id: "b3", box: [860, 872.7, 1179, 1152.7], dom: [536, 527.6], major: oMajor, minor: oMinor,
    tickFs: 18, tickY: 1173.5, exp: b3Exp, r: 3.8, fill: "none", expOnTop: false,
    bg: b3Bg, sum: b3Sum, lw: 1.4, sumW: 1.6, frameW: 2,
    comps: [{d: b3MO, c: RED}, {d: b3CdO, c: BLUE}, {d: b3CO, c: MAGENTA}], labels: b3Labels,
    legend: {rows: [905, 919, 938, 957, 975, 995], lx: [863, 899], tx: 902.7, expShift: 0, fs: 13.5},
    peak: {parts: O1S, x: 1171, y: 907, fs: 20}, xt: [1006, 1193, 17.5], yt: [846, 1012, 18] },
  { id: "b4", box: [35.6, 1275, 425, 1565], dom: [868.1, 849], major: niMajor, minor: niMinor,
    tickFs: 18, tickY: 1589.5, exp: b4Exp, r: 2.6, fill: "none", expOnTop: false,
    bg: b4Bg, sum: b4Sum, lw: 2, sumW: 2.6, frameW: 2,
    comps: [{d: b4Ni0I, c: BLUE}, {d: b4Ni0II, c: TEAL}, {d: b4NiO, c: RED}, {d: b4NiCr, c: LIME}], labels: b4Labels,
    legend: {rows: [1291, 1309, 1329, 1349, 1370, 1389, 1409], lx: [50.3, 88], tx: 94, expShift: 0, fs: 16},
    peak: {parts: NI2P, x: 420, y: 1302, fs: 22}, xt: [222, 1609, 17.5], yt: [19, 1416, 18] },
  { id: "b5", box: [458.6, 1277, 826.5, 1568], dom: [581, 572], major: crMajor, minor: crMinor,
    tickFs: 18, tickY: 1589.5, exp: b5Exp, r: 4.2, fill: "#fff", expOnTop: true,
    bg: b5Bg, sum: b5Sum, lw: 1.8, sumW: 1.8, frameW: 2,
    comps: [{d: b5Cr0, c: BLUE}, {d: b5Cr2O3a, c: RED}, {d: b5NiCr, c: LIME}, {d: b5Cr2O3b, c: PINK}], labels: b5Labels,
    legend: {rows: [1287, 1306, 1325, 1344, 1363, 1382, 1401], lx: [458.7, 491], tx: 496, expShift: 0, fs: 14.5},
    peak: {parts: CR2P, x: 811, y: 1313, fs: 20}, xt: [651, 1610, 17.5], yt: [438.7, 1417, 18] },
  { id: "b6", box: [858, 1278, 1178, 1567], dom: [536, 527.5], major: oMajor, minor: oMinor,
    tickFs: 18, tickY: 1589.5, exp: b6Exp, r: 3.8, fill: "none", expOnTop: false,
    bg: b6Bg, sum: b6Sum, lw: 1.5, sumW: 2, frameW: 2,
    comps: [{d: b6MO, c: RED}, {d: b6CdO, c: BLUE}], labels: b6Labels,
    legend: {rows: [1309, 1325, 1345, 1364, 1385], lx: [862, 895], tx: 898, expShift: 0, fs: 13.5},
    peak: {parts: O1S, x: 1168, y: 1311, fs: 20}, xt: [1003, 1609, 17.5], yt: [845, 1421, 18] }
];

// outer frames of the two figure parts
svg.append("rect").attr("x", 132).attr("y", 14.5).attr("width", 906).attr("height", 726)
  .attr("fill", "none").attr("stroke", "#d0d0d0").attr("stroke-width", 1.5);
svg.append("path").attr("d", "M1182,799H8V1621")
  .attr("fill", "none").attr("stroke", "#e6e6e6").attr("stroke-width", 1.5);

// panel letters
svg.append("text").attr("x", 143).attr("y", 57).attr("font-family", SANS)
  .attr("font-weight", "bold").attr("font-size", 34).text("a");
svg.append("text").attr("x", 19).attr("y", 849).attr("font-family", SANS)
  .attr("font-weight", "bold").attr("font-size", 40).text("b");

// row titles
var titles = [
  {x: 602, y: 57, fs: 28, parts: [["Ni", ""], ["100", "sub"], ["-Cr", ""], ["0", "sub"], [": Native surface", ""]]},
  {x: 583.5, y: 415, fs: 28, parts: [["Ni", ""], ["100", "sub"], ["-Cr", ""], ["0", "sub"], [": Interior core", ""]]},
  {x: 598, y: 853, fs: 32, parts: [["Ni", ""], ["95", "sub"], ["-Cr", ""], ["5", "sub"], [": Native surface", ""]]},
  {x: 575, y: 1260, fs: 32, parts: [["Ni", ""], ["95", "sub"], ["-Cr", ""], ["5", "sub"], [": Interior core", ""]]}
];
titles.forEach(function(t) {
  var el = svg.append("text").attr("x", t.x).attr("y", t.y).attr("text-anchor", "middle")
    .attr("font-family", SERIF).attr("font-weight", "bold");
  rich(el, t.parts, t.fs);
});

panels.forEach(drawPanel);
</script>
</body>
</html>
